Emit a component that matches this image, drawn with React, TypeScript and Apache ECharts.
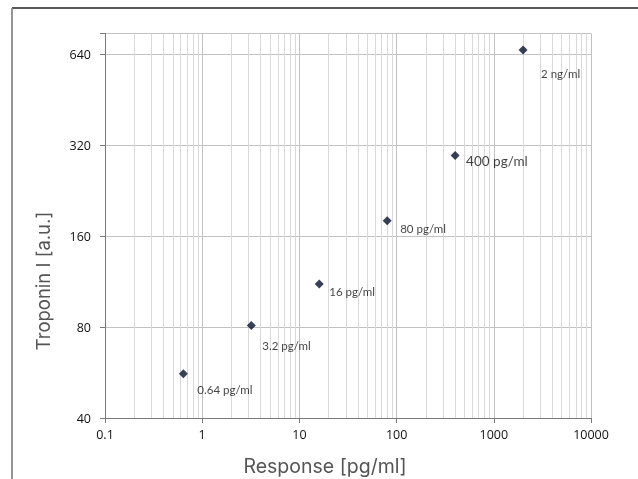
import { useEffect, useRef } from 'react';
import * as echarts from 'echarts';

// ---- data ----
const X_VALUES = [0.64, 3.2, 16, 80, 400, 2000];
const Y_VALUES = [56, 81, 111, 180, 296, 661];
const POINT_LABELS = ['0.64 pg/ml', '3.2 pg/ml', '16 pg/ml', '80 pg/ml', '400 pg/ml', '2 ng/ml'];
const Y_TICKS = [40, 80, 160, 320, 640];
const Y_MAX = 750;
const X_MIN = 0.1;
const X_MAX = 10000;
const X_DECADES = [0.1, 1, 10, 100, 1000];
const MINOR_STEPS = [2, 3, 4, 5, 6, 7, 8, 9];

// ---- label styling (offsets from each marker, font sizes) ----
const LABEL_OFFSETS: [number, number][] = [[14, 16], [11, 20], [10, 7], [13, 8], [11, 6], [18, 23]];
const LABEL_SIZES = [11.5, 11.5, 11.5, 11.5, 13.5, 11.5];

export default function App() {
  const ref = useRef<HTMLDivElement>(null);
  useEffect(() => {
    const chart = echarts.init(ref.current!, null, { renderer: 'svg' });
    const yBase = Y_TICKS[0];
    const toY = (v: number) => Math.log2(v / yBase);
    const minorX: number[] = [];
    X_DECADES.forEach((d) => MINOR_STEPS.forEach((s) => minorX.push(d * s)));

    const scatterData = X_VALUES.map((x, i) => ({
      value: [x, toY(Y_VALUES[i])],
      label: {
        show: true,
        position: 'right',
        distance: 0,
        offset: [LABEL_OFFSETS[i][0] - 4.5, LABEL_OFFSETS[i][1]],
        formatter: POINT_LABELS[i],
        fontSize: LABEL_SIZES[i],
        fontFamily: 'Lato',
        color: '#111',
      },
    }));

    chart.setOption({
      animation: false,
      grid: { left: 105, right: 47, top: 33.5, bottom: 61 },
      xAxis: {
        type: 'log',
        logBase: 10,
        min: X_MIN,
        max: X_MAX,
        axisLine: { show: true, lineStyle: { color: '#7a7a7a', width: 1 } },
        axisTick: { show: true, length: 5, lineStyle: { color: '#7a7a7a' } },
        axisLabel: {
          color: '#111',
          fontFamily: 'Open Sans',
          fontSize: 12.5,
          margin: 10,
          formatter: (v: number) => (v < 1 ? String(v) : String(Math.round(v))),
        },
        splitLine: { show: true, lineStyle: { color: '#c2c2c2', width: 1 } },
      },
      yAxis: {
        type: 'value',
        min: 0,
        max: toY(Y_MAX),
        interval: 1,
        axisLine: { show: true, lineStyle: { color: '#7a7a7a', width: 1 } },
        axisTick: { show: true, length: 5, lineStyle: { color: '#7a7a7a' } },
        axisLabel: {
          color: '#111',
          fontFamily: 'Open Sans',
          fontSize: 12.5,
          margin: 14,
          formatter: (v: number) =>
            Math.abs(v - Math.round(v)) < 1e-9 ? String(Math.round(yBase * Math.pow(2, Math.round(v)))) : '',
        },
        splitLine: { show: true, lineStyle: { color: '#c2c2c2', width: 1 } },
      },
      series: [
        {
          type: 'scatter',
          data: [],
          z: 1,
          silent: true,
          markLine: {
            silent: true,
            symbol: ['none', 'none'],
            label: { show: false },
            emphasis: { disabled: true },
            lineStyle: { color: '#d9d9d9', width: 1, type: 'solid' },
            data: minorX.map((v) => ({ xAxis: v })),
          },
        },
        {
          type: 'scatter',
          symbol: 'diamond',
          symbolSize: 9,
          z: 5,
          itemStyle: { color: '#06102a' },
          data: scatterData,
        },
      ],
      graphic: [
        {
          type: 'line',
          shape: { x1: 12, y1: 8, x2: 638, y2: 8 },
          style: { stroke: '#222', lineWidth: 1.5 },
        },
        {
          type: 'line',
          shape: { x1: 12, y1: 8, x2: 12, y2: 479 },
          style: { stroke: '#8a8a8a', lineWidth: 1.8 },
        },
        {
          type: 'text',
          x: 325,
          y: 466,
          style: {
            text: 'Response [pg/ml]',
            fontFamily: 'Inter',
            fontSize: 19.5,
            fill: '#555',
            align: 'center',
            verticalAlign: 'middle',
          },
        },
        {
          type: 'text',
          x: 43,
          y: 281,
          rotation: Math.PI / 2,
          style: {
            text: 'Troponin I [a.u.]',
            fontFamily: 'Inter',
            fontSize: 18.5,
            fill: '#555',
            align: 'center',
            verticalAlign: 'middle',
          },
        },
      ],
    });
    return () => chart.dispose();
  }, []);
  return <div ref={ref} style={{ position: 'fixed', left: 0, top: 0, width: 638, height: 479 }} />;
}
